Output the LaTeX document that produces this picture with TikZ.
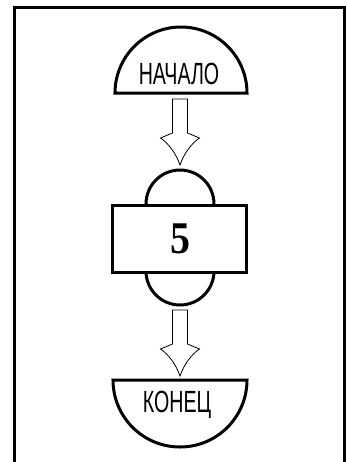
\documentclass[tikz,border=0pt]{standalone}
\usepackage{fontspec}
\newfontfamily\labelfont[FakeStretch=0.64]{Liberation Sans}
\newfontfamily\numfont[FakeStretch=0.88]{Liberation Serif}
\tikzset{
  pics/hollowarrow/.style={code={
    \draw[line width=0.6pt,fill=white] (-7.5,0) -- (-7.5,-34) -- (-19.5,-39)
      .. controls (-12,-44) and (-4,-54) .. (0,-66)
      .. controls (4,-54) and (12,-44) .. (19.5,-39)
      -- (7.5,-34) -- (7.5,0) -- cycle;
  }}
}
\begin{document}
\begin{tikzpicture}[x=0.75pt,y=0.75pt,
    shapeline/.style={line width=2.25pt,fill=white},
    termtext/.style={font=\labelfont\fontsize{23}{23}\selectfont,inner sep=0pt},
    numtext/.style={font=\numfont\bfseries\fontsize{34}{34}\selectfont,inner sep=0pt}]
  \useasboundingbox (0,0) rectangle (347,-462);
  % frame
  \draw[line width=2.25pt] (14.3,-470) -- (14.3,-7.7) -- (345,-7.7) -- (345,-470);
  % start
  \draw[shapeline] (115,-93) arc[start angle=180,end angle=0,radius=66] -- cycle;
  \node[termtext] (start) at (179,-74) {НАЧАЛО};
  \coordinate (arr1) at (180,-99);
  \pic at (arr1) {hollowarrow};
  % process
  \draw[shapeline] (146,-204) arc[start angle=180,end angle=0,radius=34]
    -- (214,-271) arc[start angle=0,end angle=-180,radius=34] -- cycle;
  \draw[shapeline] (113,-205) rectangle (247,-272);
  \node[numtext] (proc) at (180,-238.5) {5};
  \coordinate (arr2) at (180,-310);
  \pic at (arr2) {hollowarrow};
  % stop
  \draw[shapeline] (113,-380) arc[start angle=180,end angle=360,radius=67] -- cycle;
  \node[termtext] (stop) at (177,-405) {КОНЕЦ};
\end{tikzpicture}
\end{document}
